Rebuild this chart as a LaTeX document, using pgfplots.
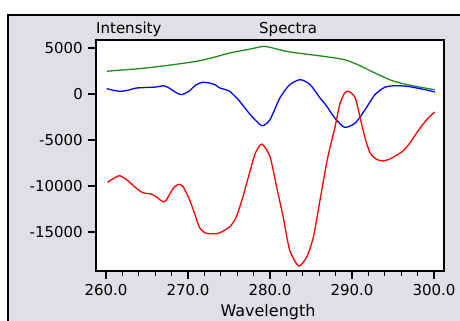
\documentclass[border=0pt]{standalone}
\usepackage{pgfplots}
\pgfplotsset{compat=1.18}
\usepackage{fontspec}
\setmainfont{DejaVu Sans}
\definecolor{panelgray}{RGB}{224,224,228}
\definecolor{spgreen}{RGB}{30,140,30}
\begin{document}
\fontsize{15bp}{17bp}\selectfont
\begin{tikzpicture}
\path[use as bounding box] (0,0) rectangle (460bp,321bp);
\fill[white] (0,0) rectangle (460bp,321bp);
\filldraw[fill=panelgray, draw=black, line width=2bp] (8bp,-10bp) rectangle (470bp,306bp);
\begin{axis}[
  at={(96bp,50bp)}, anchor=south west,
  scale only axis, width=348bp, height=231bp,
  xmin=258.78, xmax=301.22, ymin=-19240, ymax=5870,
  axis background/.style={fill=white},
  axis line style={black, line width=1.2bp},
  xtick={260,270,280,290,300},
  xticklabels={260.0,270.0,280.0,290.0,300.0},
  ytick={-15000,-10000,-5000,0,5000},
  yticklabels={-15000,-10000,-5000,0,5000},
  scaled y ticks=false,
  minor x tick num=4,
  xtick pos=bottom, ytick pos=left,
  tick align=outside,
  major tick length=8bp, minor tick length=5bp,
  every tick/.style={black, line width=1.2bp},
  ticklabel style={font=\fontsize{15bp}{17bp}\selectfont},
  clip=true,
]
\addplot[spgreen, line width=1.3bp, smooth, tension=0.4] coordinates {
(260.1,2470) (261.5,2580) (264.0,2750) (267.3,3080) (271.0,3550) (273.0,3950)
(275.1,4460) (277.6,4890) (279.3,5180) (281.0,4850) (282.4,4570) (284.9,4280)
(286.9,4050) (289.1,3730) (290.7,3190) (292.8,2280) (294.9,1450) (296.8,1010)
(298.9,650) (300.1,470)
};
\addplot[blue, line width=1.3bp, smooth, tension=0.4] coordinates {
(260.1,580) (260.9,400) (261.8,290) (262.8,430) (263.7,650) (266.1,760)
(267.0,900) (267.7,650) (268.5,180) (269.2,-70) (270.1,290) (271.0,1010)
(271.8,1270) (272.6,1200) (273.3,1010) (273.9,650) (275.1,290) (276.3,-790)
(277.6,-2250) (279.0,-3440) (280.0,-2790) (281.2,-430) (282.4,1010) (283.7,1560)
(284.9,1010) (286.1,-430) (286.9,-1300) (287.9,-2610) (289.1,-3620) (290.4,-3150)
(291.6,-1700) (292.8,-70) (294.0,730) (295.2,900) (296.8,830) (298.9,470) (300.1,220)
};
\addplot[red, line width=1.3bp, smooth, tension=0.4] coordinates {
(260.2,-9600) (260.8,-9240) (261.7,-8880) (262.8,-9530) (263.7,-10250) (264.5,-10730)
(265.5,-10870) (266.1,-11160) (266.9,-11700) (267.3,-11600) (267.7,-10980) (268.3,-10140)
(268.9,-9820) (269.4,-10070) (270.2,-11520) (270.8,-12970) (271.4,-14490) (272.2,-15140)
(273.7,-15140) (275.1,-14420) (275.9,-13340) (276.7,-11160) (277.6,-8260) (278.2,-6450)
(279.0,-5440) (280.0,-6810) (280.8,-10070) (281.6,-13340) (282.4,-16960) (283.5,-18700)
(284.5,-17680) (285.3,-15510) (286.1,-11520) (286.9,-7530) (287.3,-5870) (287.9,-3700)
(288.5,-1160) (289.1,110) (289.6,290) (290.4,-430) (291.0,-2610) (291.6,-4780)
(292.2,-6410) (293.0,-7100) (293.8,-7280) (294.8,-6990) (296.1,-6270) (296.9,-5510)
(298.3,-3700) (299.3,-2610) (300.1,-1960)
};
\end{axis}
\node[anchor=base west, inner sep=0pt] at (96bp,287bp) {Intensity};
\node[anchor=base west, inner sep=0pt] at (259bp,287bp) {Spectra};
\node[anchor=base, inner sep=0pt, font=\fontsize{16bp}{18bp}\selectfont] at (268bp,5bp) {Wavelength};
\end{tikzpicture}
\end{document}
